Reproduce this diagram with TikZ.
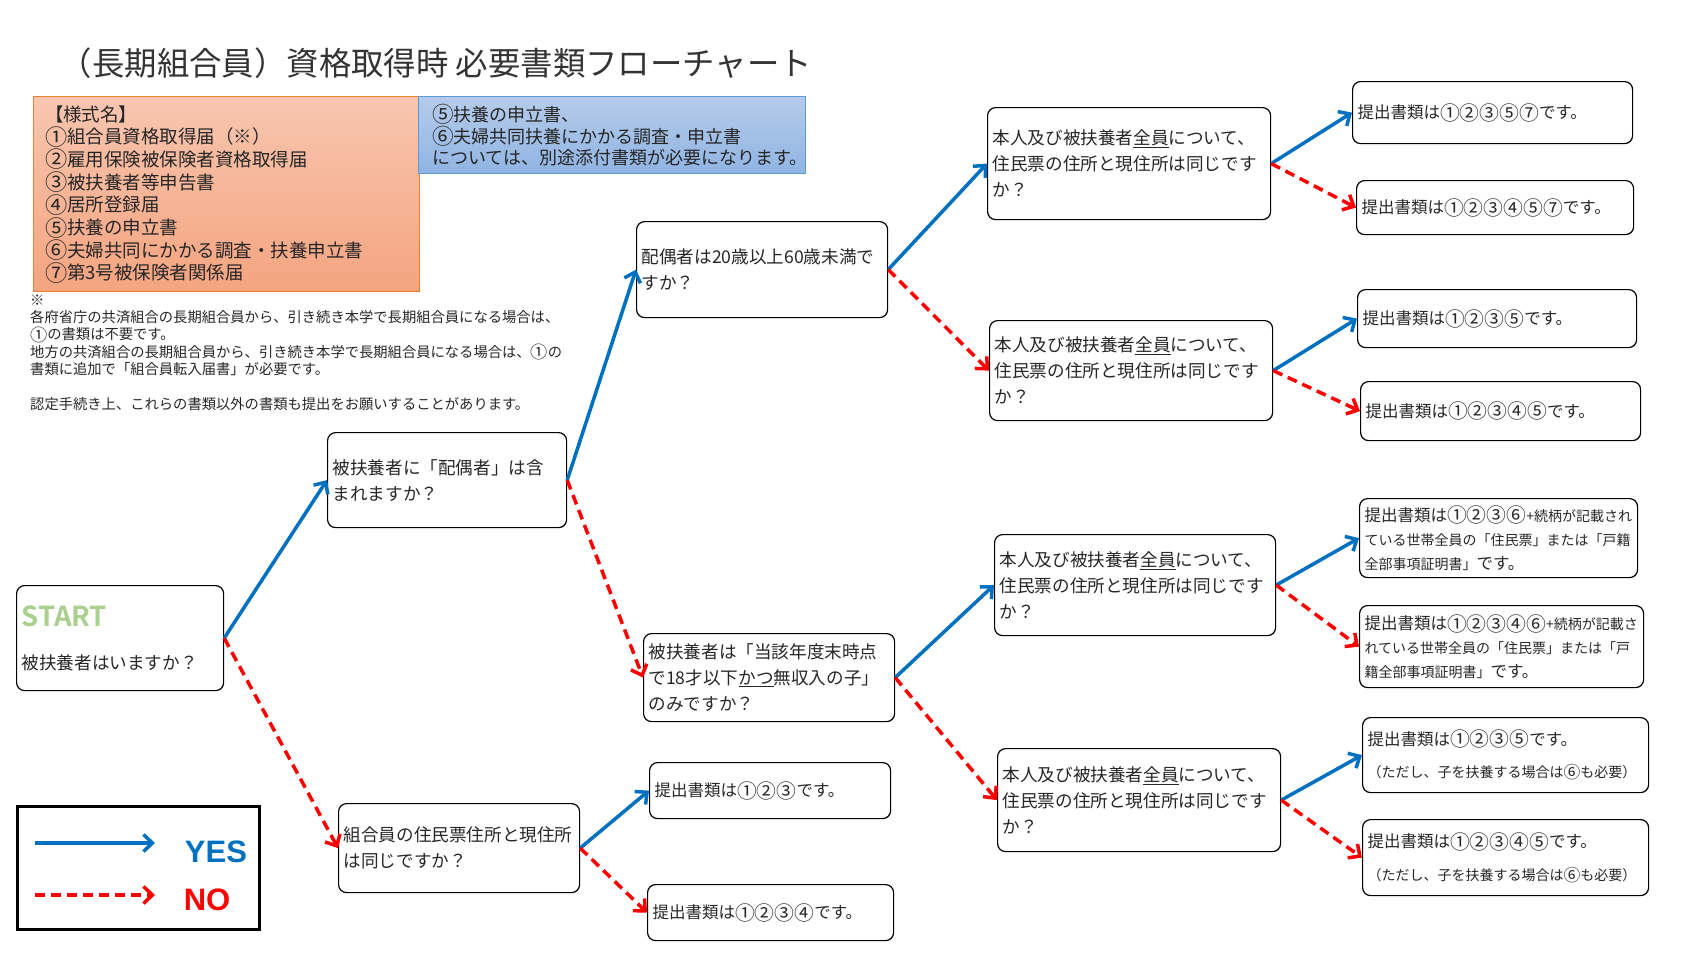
\documentclass[tikz,border=0pt]{standalone}
\usepackage{fontspec}
\setmainfont{Noto Sans CJK JP}[BoldFont={Noto Sans CJK JP Bold}]
\newfontfamily\legendfont{Liberation Sans}
\usepackage{graphicx}
\usepackage{tikz}
\usetikzlibrary{arrows.meta}
\usepackage{xcolor}
\definecolor{yesblue}{RGB}{0,112,192}
\definecolor{nored}{RGB}{255,0,0}
\definecolor{startgreen}{RGB}{169,208,142}
\definecolor{formline}{RGB}{237,125,49}
\definecolor{formtop}{RGB}{248,198,176}
\definecolor{formbottom}{RGB}{244,164,128}
\definecolor{attline}{RGB}{91,155,213}
\definecolor{atttop}{RGB}{182,203,234}
\definecolor{attbottom}{RGB}{143,180,227}
\newcommand{\maru}[1]{\raisebox{-0.08em}{\scalebox{1.2}{#1}}}

\begin{document}
\begin{tikzpicture}[x=1pt,y=-1pt,
    qbox/.style={draw, line width=1.2pt, rounded corners=8pt, anchor=north west,
      align=left, inner sep=5pt, text=black!85, font=\fontsize{17.6}{26}\selectfont},
    abox/.style={qbox, font=\fontsize{16.5}{22}\selectfont},
    yesarrow/.style={draw=yesblue, line width=3.5pt, -{Straight Barb[length=9pt,width=17pt]}},
    noarrow/.style={yesarrow, draw=nored, dash pattern=on 10pt off 6pt}]
      \useasboundingbox (0,0) rectangle (1698,959);
      \node[font=\fontsize{32.4}{34}\selectfont, text=black!80] (title) at (436,63) {（長期組合員）資格取得時 必要書類フローチャート};
      \node[draw=formline, line width=1pt, top color=formtop, bottom color=formbottom, anchor=north west,
        minimum width=385.5pt, minimum height=195pt, text width=362pt, inner xsep=12pt, align=left,
        font=\fontsize{18.5}{22.7}\selectfont, text=black!85] (forms) at (32.5,96.4)
        {【様式名】\\\maru{①}組合員資格取得届（※）\\\maru{②}雇用保険被保険者資格取得届\\\maru{③}被扶養者等申告書\\\maru{④}居所登録届\\\maru{⑤}扶養の申立書\\\maru{⑥}夫婦共同にかかる調査・扶養申立書\\\maru{⑦}第3号被保険者関係届};
      \node[draw=attline, line width=1pt, top color=atttop, bottom color=attbottom, anchor=north west,
        minimum width=387pt, minimum height=77pt, text width=360pt, inner xsep=13pt, align=left,
        font=\fontsize{18}{21.7}\selectfont, text=black!85] (attach) at (418,96.4)
        {\maru{⑤}扶養の申立書、\\\maru{⑥}夫婦共同扶養にかかる調査・申立書\\については、別途添付書類が必要になります。};
      \node[anchor=north west, inner sep=0pt, text width=570pt, align=left,
        font=\fontsize{14.3}{17.3}\selectfont, text=black!85] (note) at (30,294.5)
        {※\\各府省庁の共済組合の長期組合員から、引き続き本学で長期組合員になる場合は、\\\maru{①}の書類は不要です。\\地方の共済組合の長期組合員から、引き続き本学で長期組合員になる場合は、\maru{①}の\\書類に追加で「組合員転入届書」が必要です。\\[17.3pt]認定手続き上、これらの書類以外の書類も提出をお願いすることがあります。};
      \node[qbox, text width=197pt, minimum height=105pt] (start) at (16,585)
        {{\fontsize{27.5}{27.5}\selectfont\bfseries\color{startgreen}START}\\[17pt]被扶養者はいますか？};
      \node[qbox, text width=229pt, minimum height=95pt] (spouse) at (327,432)
        {被扶養者に「配偶者」は含\\まれますか？};
      \node[qbox, text width=241pt, minimum height=96pt] (age) at (636,221)
        {配偶者は20歳以上60歳未満で\\すか？};
      \node[qbox, text width=273pt, minimum height=112pt] (addrA) at (987,107)
        {本人及び被扶養者\underline{全員}について、\\住民票の住所と現住所は同じです\\か？};
      \node[qbox, text width=273pt, minimum height=100pt] (addrB) at (989,320)
        {本人及び被扶養者\underline{全員}について、\\住民票の住所と現住所は同じです\\か？};
      \node[qbox, text width=241pt, minimum height=88pt] (child) at (643,633)
        {被扶養者は「当該年度末時点\\で18才以下\underline{かつ}無収入の子」\\のみですか？};
      \node[qbox, text width=271pt, minimum height=101pt] (addrC) at (994,534)
        {本人及び被扶養者\underline{全員}について、\\住民票の住所と現住所は同じです\\か？};
      \node[qbox, text width=273pt, minimum height=103pt] (addrD) at (997,748)
        {本人及び被扶養者\underline{全員}について、\\住民票の住所と現住所は同じです\\か？};
      \node[qbox, text width=231pt, minimum height=89pt] (self) at (338,803)
        {組合員の住民票住所と現住所\\は同じですか？};
      \node[abox, text width=270pt, minimum height=62pt] (docA) at (1352,81) {提出書類は\maru{①}\maru{②}\maru{③}\maru{⑤}\maru{⑦}です。};
      \node[abox, text width=267pt, minimum height=54pt] (docB) at (1356,180) {提出書類は\maru{①}\maru{②}\maru{③}\maru{④}\maru{⑤}\maru{⑦}です。};
      \node[abox, text width=269pt, minimum height=58pt] (docC) at (1357,289) {提出書類は\maru{①}\maru{②}\maru{③}\maru{⑤}です。};
      \node[abox, text width=270pt, minimum height=59pt] (docD) at (1360,381) {提出書類は\maru{①}\maru{②}\maru{③}\maru{④}\maru{⑤}です。};
      \node[abox, text width=268pt, minimum height=79pt, font=\fontsize{14}{24}\selectfont] (docE) at (1359,498)
        {{\fontsize{16.5}{20}\selectfont 提出書類は\maru{①}\maru{②}\maru{③}\maru{⑥}}+続柄が記載され\\ている世帯全員の「住民票」または「戸籍\\全部事項証明書」{\fontsize{16.5}{20}\selectfont です。}};
      \node[abox, text width=274pt, minimum height=82pt, font=\fontsize{14}{24}\selectfont] (docF) at (1359,605)
        {{\fontsize{16.5}{20}\selectfont 提出書類は\maru{①}\maru{②}\maru{③}\maru{④}\maru{⑥}}+続柄が記載さ\\れている世帯全員の「住民票」または「戸\\籍全部事項証明書」{\fontsize{16.5}{20}\selectfont です。}};
      \node[abox, text width=276pt, minimum height=75pt, font=\fontsize{14}{18}\selectfont] (docG) at (1362,717)
        {{\fontsize{16.5}{20}\selectfont 提出書類は\maru{①}\maru{②}\maru{③}\maru{⑤}です。}\\[14.6pt]（ただし、子を扶養する場合は\maru{⑥}も必要）};
      \node[abox, text width=276pt, minimum height=76pt, font=\fontsize{14}{18}\selectfont] (docH) at (1362,819)
        {{\fontsize{16.5}{20}\selectfont 提出書類は\maru{①}\maru{②}\maru{③}\maru{④}\maru{⑤}です。}\\[14.6pt]（ただし、子を扶養する場合は\maru{⑥}も必要）};
      \node[abox, text width=231pt, minimum height=56pt] (docI) at (649,762) {提出書類は\maru{①}\maru{②}\maru{③}です。};
      \node[abox, text width=236pt, minimum height=56pt] (docJ) at (647,884) {提出書類は\maru{①}\maru{②}\maru{③}\maru{④}です。};
      \draw[yesarrow] (start.east) -- (spouse.west);
      \draw[noarrow] (start.east) -- (self.west);
      \draw[yesarrow] (spouse.east) -- (age.west);
      \draw[noarrow] (spouse.east) -- (child.west);
      \draw[yesarrow] (age.east) -- (addrA.west);
      \draw[noarrow] (age.east) -- (addrB.west);
      \draw[yesarrow] (addrA.east) -- (docA.west);
      \draw[noarrow] (addrA.east) -- (docB.west);
      \draw[yesarrow] (addrB.east) -- (docC.west);
      \draw[noarrow] (addrB.east) -- (docD.west);
      \draw[yesarrow] (child.east) -- (addrC.west);
      \draw[noarrow] (child.east) -- (addrD.west);
      \draw[yesarrow] (addrC.east) -- (docE.west);
      \draw[noarrow] (addrC.east) -- (docF.west);
      \draw[yesarrow] (addrD.east) -- (docG.west);
      \draw[noarrow] (addrD.east) -- (docH.west);
      \draw[yesarrow] (self.east) -- (docI.west);
      \draw[noarrow] (self.east) -- (docJ.west);
      \node[draw, line width=2.5pt, anchor=north west, minimum width=242pt, minimum height=123pt, inner sep=0pt] (legend) at (16,805) {};
      \coordinate (yesfrom) at (35,843);
      \coordinate (yesto) at (155,843);
      \coordinate (nofrom) at (35,895);
      \coordinate (noto) at (155,895);
      \draw[yesarrow] (yesfrom) -- (yesto);
      \draw[noarrow] (nofrom) -- (noto);
      \node[font=\legendfont\fontsize{31}{31}\selectfont\bfseries, text=yesblue] (yeslabel) at (216,852) {YES};
      \node[font=\legendfont\fontsize{31}{31}\selectfont\bfseries, text=nored] (nolabel) at (207,900) {NO};
    \end{tikzpicture}
\end{document}
